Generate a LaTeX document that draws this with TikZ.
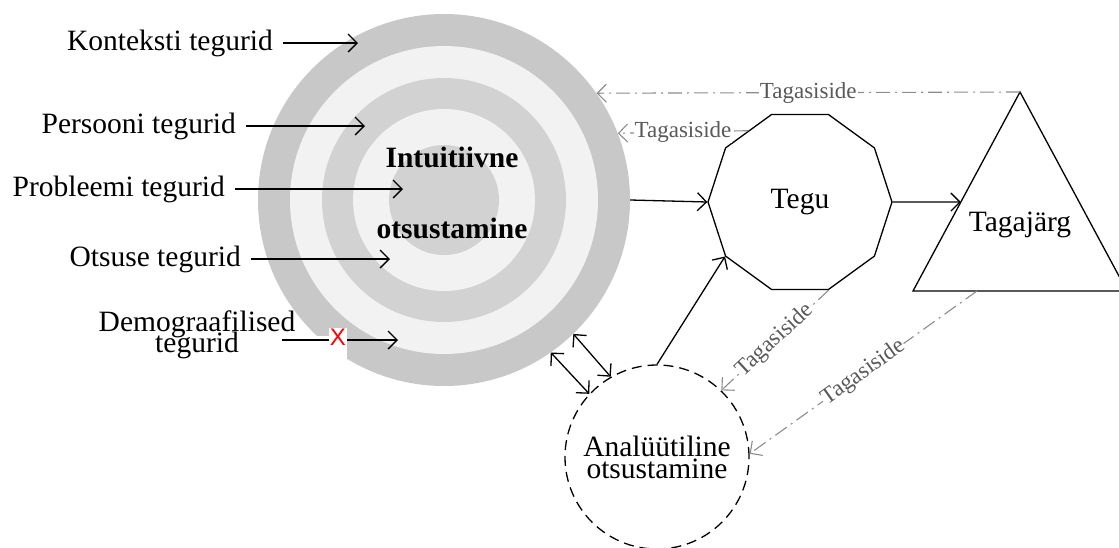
\documentclass[tikz,border=0pt]{standalone}
\usepackage{fontspec}
\setmainfont{Liberation Serif}
\newfontfamily\xmarkfont{Liberation Sans}
\usepackage{tikz}
\usetikzlibrary{positioning, calc, shapes.geometric, arrows.meta}
\definecolor{ringdark}{HTML}{C8C8C8}
\definecolor{ringmid}{HTML}{D2D2D2}
\definecolor{ringlight}{HTML}{F2F2F2}
\definecolor{fbline}{HTML}{8C8C8C}
\definecolor{fbtext}{HTML}{595959}
\newcommand{\bigtxt}{\fontsize{29.5}{30}\selectfont}
\newcommand{\tighttxt}[1]{\fontsize{29.5}{#1}\selectfont\lineskiplimit=-50pt}

\begin{document}
\begin{tikzpicture}[x=1pt, y=-1pt,
    ring/.style={circle, inner sep=0pt, minimum size=#1},
    factor/.style={anchor=east, inner xsep=10pt, inner ysep=0pt, font=\bigtxt},
    arr/.style={-{Straight Barb[length=9pt, width=18pt]}, line width=1.3pt},
    dblarr/.style={{Straight Barb[length=9pt, width=18pt]}-{Straight Barb[length=9pt, width=18pt]}, line width=1.3pt},
    fb/.style={draw=fbline, line width=1.1pt, dash pattern=on 14pt off 5pt on 2pt off 5pt, -{Straight Barb[length=9pt, width=18pt]}},
    fblabel/.style={fill=white, text=fbtext, inner sep=1pt, font=\fontsize{23}{24}\selectfont}]
  \useasboundingbox (0,0) rectangle (1119,547);

  % Rings
  \node[ring=372pt, fill=ringdark] (circ) at (444,200) {};
  \node[ring=308pt, fill=ringlight] (ring2) at (circ) {};
  \node[ring=244pt, fill=ringmid] (ring3) at (circ) {};
  \node[ring=182pt, fill=ringlight] (ring4) at (circ) {};
  \node[ring=110pt, fill=ringmid] (core) at (circ) {};
  \fill[white] (300,336) rectangle (347,400);
  \node[font=\bfseries\bigtxt] (intu) at (452,157) {Intuitiivne};
  \node[font=\bfseries\bigtxt] (otsus) at (452,228) {otsustamine};

  % Nodes
  \node[draw, regular polygon, regular polygon sides=10, minimum size=184pt, inner sep=0pt, line width=1.3pt, font=\bigtxt] (tegu) at (800,202) {Tegu};
  \node[draw, circle, dash pattern=on 10pt off 6pt, line width=1.3pt, minimum size=184pt, inner sep=0pt, align=center, font=\tighttxt{22}] (ana) at (657,457) {Analüütiline\\otsustamine};
  \coordinate (apex) at (1020,92);
  \coordinate (baseL) at (913,291);
  \coordinate (baseR) at (1127,291);
  \draw[line width=1.3pt] (apex) -- (baseL) -- (baseR) -- cycle;
  \node[font=\bigtxt] (tagaj) at (1020,225) {Tagajärg};
  \coordinate (tside) at ($(apex)!0.553!(baseL)$);
  \coordinate (tbase) at (977,291);

  % Factors
  \node[factor] (kont) at (283,43) {Konteksti tegurid};
  \node[factor] (pers) at (246,126) {Persooni tegurid};
  \node[factor] (prob) at (235,189) {Probleemi tegurid};
  \node[factor] (otsu) at (251,259) {Otsuse tegurid};
  \node[align=center, font=\tighttxt{21}] (demo) at (197,335) {Demograafilised\\tegurid};
  \node[fill=white, text=red, inner sep=1pt, font=\xmarkfont\fontsize{24}{24}\selectfont] (xmark) at (338,337) {X};
  \coordinate (kE) at (358,43);
  \coordinate (pE) at (365,126);
  \coordinate (prE) at (403,189);
  \coordinate (oE) at (390,259);
  \coordinate (dS) at (282,340);
  \coordinate (dE) at (398,340);

  % Connections
  \draw[arr] (kont.east) -- (kE);
  \draw[arr] (pers.east) -- (pE);
  \draw[arr] (prob.east) -- (prE);
  \draw[arr] (otsu.east) -- (oE);
  \draw[line width=1.3pt] (dS) -- (dS -| xmark.west);
  \draw[arr] (xmark.east |- dE) -- (dE);
  \draw[arr] (circ.east) -- (tegu.west);
  \draw[arr] (tegu.east) -- (tside);
  \draw[arr] (ana.north) -- (tegu.216);
  \draw[dblarr] (circ.-46) -- (ana.120);
  \draw[dblarr] (circ.-55) -- (ana.137);

  % Feedback
  \draw[fb] (apex) -- node[fblabel] {Tagasiside} (circ.35.6);
  \draw[fb] (tegu.126) -- node[fblabel] {Tagasiside} (circ.21.8);
  \draw[fb] (tegu.-72) -- node[fblabel, sloped] {Tagasiside} (ana.46);
  \draw[fb] (tbase) -- node[fblabel, sloped] {Tagasiside} (ana.2);
\end{tikzpicture}
\end{document}
